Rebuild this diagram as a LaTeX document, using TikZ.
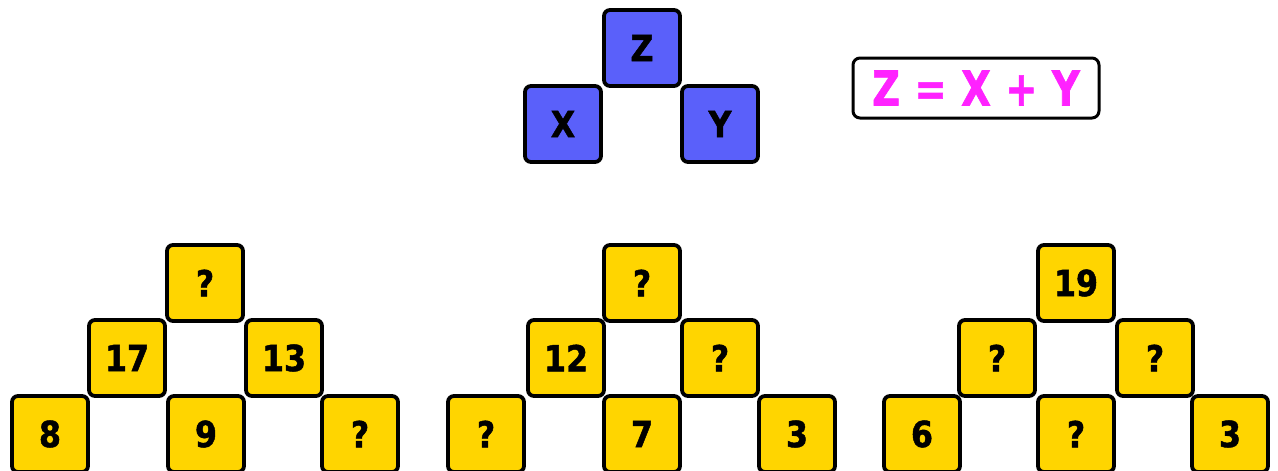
\documentclass[tikz,border=0pt]{standalone}
\usepackage{fontspec}
\setmainfont{DejaVu Sans}
\newfontfamily\tilefont{DejaVu Sans}[FakeStretch=0.88,FakeBold=1.3]
\newfontfamily\formulafont{DejaVu Sans}[FakeStretch=0.80,FakeBold=1.3]
\definecolor{boxblue}{HTML}{5A60FA}
\definecolor{boxyellow}{HTML}{FFD500}
\definecolor{formulamag}{HTML}{FF22FF}
\newcommand{\fgap}{\hspace{14.5pt}}
\tikzset{
  tile/.style={draw=black, line width=3.8pt, rounded corners=6pt, minimum width=76pt, minimum height=76pt, inner sep=0pt, font=\tilefont\fontsize{36}{36}\selectfont\bfseries},
  bluetile/.style={tile, fill=boxblue},
  yellowtile/.style={tile, fill=boxyellow},
  formulabox/.style={draw=black, line width=3pt, rounded corners=7pt, fill=white, minimum width=246pt, minimum height=60pt, inner sep=0pt, text=formulamag, font=\formulafont\fontsize{48}{48}\selectfont\bfseries}
}
\begin{document}
\begin{tikzpicture}[x=1pt,y=-1pt]
\useasboundingbox (0,0) rectangle (1278,471);
% key pyramid
\node[bluetile] (z) at (642,48) {Z};
\node[bluetile] (x) at (563,124) {X};
\node[bluetile] (y) at (720,124) {Y};
\node[formulabox] (f) at (976,88) {Z\fgap=\fgap X\fgap+\fgap Y};
% pyramid 1
\node[yellowtile] (a1) at (205,283) {?};
\node[yellowtile] (a2) at (127,358) {17};
\node[yellowtile] (a3) at (284,358) {13};
\node[yellowtile] (a4) at (50,434) {8};
\node[yellowtile] (a5) at (206,434) {9};
\node[yellowtile] (a6) at (360,434) {?};
% pyramid 2
\node[yellowtile] (b1) at (642,283) {?};
\node[yellowtile] (b2) at (566,358) {12};
\node[yellowtile] (b3) at (720,358) {?};
\node[yellowtile] (b4) at (486,434) {?};
\node[yellowtile] (b5) at (642,434) {7};
\node[yellowtile] (b6) at (797,434) {3};
% pyramid 3
\node[yellowtile] (c1) at (1076,283) {19};
\node[yellowtile] (c2) at (997,358) {?};
\node[yellowtile] (c3) at (1155,358) {?};
\node[yellowtile] (c4) at (922,434) {6};
\node[yellowtile] (c5) at (1076,434) {?};
\node[yellowtile] (c6) at (1230,434) {3};
\end{tikzpicture}
\end{document}
